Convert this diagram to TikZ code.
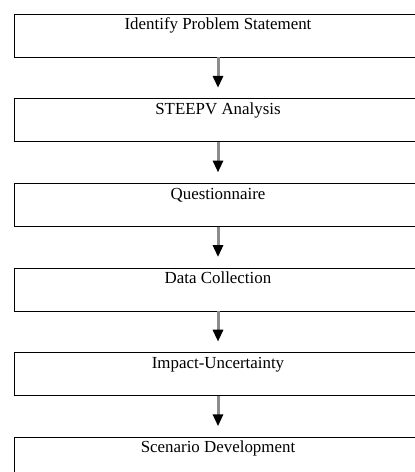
\documentclass[tikz,border=0pt]{standalone}
\usepackage{fontspec}
\setmainfont{Liberation Serif}
\usetikzlibrary{arrows.meta}

\begin{document}
\begin{tikzpicture}[x=1pt,y=-1pt,
  stagebox/.style={draw=black, line width=1pt, rectangle, minimum width=408pt,
    minimum height=43pt, inner sep=0pt, outer sep=0pt},
  stagetext/.style={anchor=base, inner sep=0pt, font=\fontsize{16.9}{20}\selectfont},
  flow/.style={color=black!45, line width=3pt, shorten >=11pt,
    -{Triangle[length=12pt, width=10pt, color=black]}}]
  \clip (0,0) rectangle (415,472);

  % stage boxes, one every 84.6pt
  \foreach \i/\t in {1/Identify Problem Statement, 2/STEEPV Analysis,
                     3/Questionnaire, 4/Data Collection,
                     5/Impact-Uncertainty, 6/Scenario Development} {
    \node[stagebox] (b\i) at (218, {14.3 + 84.6*(\i-1) + 21.5}) {};
    \node[stagetext] (t\i) at ([yshift=-15.5pt]b\i.north) {\t};
  }

  % connectors between consecutive stages
  \foreach \i/\j in {1/2, 2/3, 3/4, 4/5, 5/6} {
    \draw[flow] (b\i.south) -- (b\j.north);
  }
\end{tikzpicture}
\end{document}
